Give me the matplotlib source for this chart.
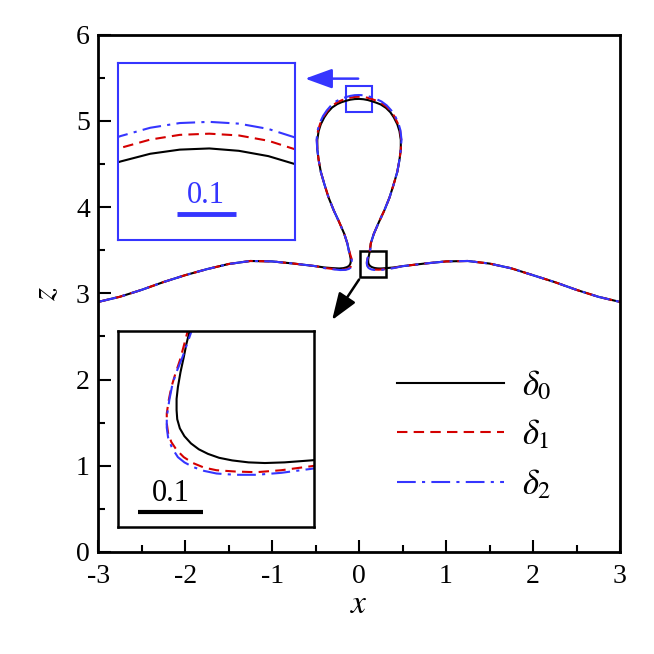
import matplotlib
matplotlib.use("Agg")
import matplotlib.pyplot as plt
from matplotlib.patches import Rectangle

plt.rcParams["font.family"] = "serif"
plt.rcParams["font.serif"] = ["Liberation Serif", "DejaVu Serif"]
plt.rcParams["mathtext.fontset"] = "stix"
plt.rcParams["axes.unicode_minus"] = False

BLUE = "#3535ff"
RED = "#d40000"

# free surface away from the bubble (same for all three cases)
left_x = [-3.0, -2.75, -2.5, -2.25, -2.0, -1.75, -1.5, -1.25, -1.0, -0.75, -0.5]
left_z = [2.90, 2.96, 3.04, 3.13, 3.21, 3.28, 3.34, 3.375, 3.37, 3.345, 3.315]
right_x = [0.5, 0.75, 1.0, 1.25, 1.5, 1.75, 2.0, 2.25, 2.5, 2.75, 3.0]
right_z = [3.315, 3.345, 3.37, 3.375, 3.345, 3.29, 3.21, 3.13, 3.04, 2.96, 2.90]

# shared bubble flanks (from the neck up to z = 4.67)
flank_x = [-0.135, -0.17, -0.23, -0.29, -0.35, -0.40, -0.44, -0.465, -0.48]
flank_z = [3.58, 3.69, 3.83, 3.96, 4.11, 4.27, 4.41, 4.55, 4.67]

# delta_0
neckL0_x = [-0.40, -0.30, -0.227, -0.18, -0.141, -0.115, -0.10, -0.095, -0.097, -0.106, -0.115]
neckL0_z = [3.30, 3.292, 3.288, 3.292, 3.303, 3.318, 3.343, 3.369, 3.404, 3.45, 3.49]
top0_x = [-0.48, -0.465, -0.44, -0.40, -0.36, -0.31, -0.25, -0.20, -0.15, -0.10, -0.05, 0.0,
          0.05, 0.10, 0.15, 0.20, 0.25, 0.31, 0.36, 0.40, 0.44, 0.465, 0.48]
top0_z = [4.78, 4.88, 4.96, 5.04, 5.10, 5.155, 5.195, 5.217, 5.233, 5.246, 5.253, 5.255,
          5.251, 5.242, 5.227, 5.21, 5.19, 5.15, 5.10, 5.04, 4.96, 4.88, 4.78]
neckR0_x = [0.125, 0.12, 0.116, 0.111, 0.107, 0.105, 0.105, 0.106, 0.11, 0.117, 0.127, 0.139,
            0.153, 0.17, 0.19, 0.215, 0.24, 0.27, 0.31, 0.40]
neckR0_z = [3.49, 3.47, 3.45, 3.427, 3.404, 3.386, 3.369, 3.355, 3.341, 3.329, 3.318, 3.309,
            3.302, 3.296, 3.292, 3.289, 3.288, 3.289, 3.292, 3.30]

# delta_1
neckL1_x = [-0.40, -0.30, -0.217, -0.156, -0.12, -0.095, -0.082, -0.08, -0.087, -0.10, -0.112]
neckL1_z = [3.295, 3.283, 3.274, 3.277, 3.288, 3.308, 3.334, 3.364, 3.404, 3.445, 3.49]
top1_x = [-0.485, -0.472, -0.447, -0.408, -0.366, -0.315, -0.255, -0.20, -0.15, -0.10, -0.05, 0.0,
          0.05, 0.10, 0.15, 0.20, 0.255, 0.315, 0.366, 0.408, 0.447, 0.472, 0.485]
top1_z = [4.78, 4.885, 4.968, 5.05, 5.112, 5.17, 5.213, 5.239, 5.256, 5.27, 5.278, 5.280,
          5.277, 5.268, 5.252, 5.233, 5.208, 5.166, 5.112, 5.05, 4.968, 4.885, 4.78]
neckR1_x = [0.122, 0.116, 0.11, 0.103, 0.097, 0.093, 0.09, 0.09, 0.092, 0.097, 0.105, 0.116,
            0.13, 0.147, 0.166, 0.195, 0.227, 0.265, 0.31, 0.40]
neckR1_z = [3.49, 3.467, 3.445, 3.424, 3.404, 3.384, 3.364, 3.349, 3.334, 3.32, 3.308, 3.297,
            3.288, 3.281, 3.277, 3.275, 3.274, 3.277, 3.283, 3.295]

# delta_2
neckL2_x = [-0.40, -0.30, -0.217, -0.156, -0.12, -0.097, -0.082, -0.08, -0.089, -0.104, -0.118]
neckL2_z = [3.293, 3.279, 3.27, 3.272, 3.282, 3.297, 3.327, 3.358, 3.41, 3.45, 3.49]
top2_x = [-0.488, -0.476, -0.452, -0.413, -0.37, -0.318, -0.258, -0.20, -0.15, -0.10, -0.05, 0.0,
          0.05, 0.10, 0.15, 0.20, 0.258, 0.318, 0.37, 0.413, 0.452, 0.476, 0.488]
top2_z = [4.78, 4.89, 4.975, 5.058, 5.122, 5.183, 5.23, 5.258, 5.276, 5.29, 5.298, 5.300,
          5.297, 5.288, 5.272, 5.252, 5.225, 5.18, 5.122, 5.058, 4.975, 4.89, 4.78]
neckR2_x = [0.128, 0.121, 0.114, 0.106, 0.099, 0.094, 0.09, 0.09, 0.092, 0.098, 0.107, 0.117,
            0.13, 0.147, 0.166, 0.195, 0.227, 0.265, 0.31, 0.40]
neckR2_z = [3.49, 3.47, 3.45, 3.43, 3.41, 3.385, 3.358, 3.342, 3.327, 3.311, 3.297, 3.289,
            3.282, 3.276, 3.272, 3.27, 3.27, 3.273, 3.279, 3.293]


def profile(neckL_x, neckL_z, top_x, top_z, neckR_x, neckR_z):
    xs = left_x + neckL_x + flank_x + top_x + [-v for v in flank_x[::-1]] + neckR_x + right_x
    zs = left_z + neckL_z + flank_z + top_z + flank_z[::-1] + neckR_z + right_z
    return xs, zs


curves = [
    (profile(neckL0_x, neckL0_z, top0_x, top0_z, neckR0_x, neckR0_z), "k", "-", r"$\delta_0$"),
    (profile(neckL1_x, neckL1_z, top1_x, top1_z, neckR1_x, neckR1_z), RED, (0, (5, 3)), r"$\delta_1$"),
    (profile(neckL2_x, neckL2_z, top2_x, top2_z, neckR2_x, neckR2_z), BLUE, (0, (9, 3, 1.5, 3)), r"$\delta_2$"),
]

fig = plt.figure(figsize=(6.54, 6.54), dpi=100)
ax = fig.add_axes([0.150, 0.156, 0.798, 0.791])

for (xs, zs), c, ls, lab in curves:
    ax.plot(xs, zs, color=c, ls=ls, lw=1.5, label=lab)

ax.set_xlim(-3, 3)
ax.set_ylim(0, 6)
ax.set_xticks([-3, -2, -1, 0, 1, 2, 3])
ax.set_yticks([0, 1, 2, 3, 4, 5, 6])
ax.set_xticks([-2.5, -1.5, -0.5, 0.5, 1.5, 2.5], minor=True)
ax.set_yticks([0.5, 1.5, 2.5, 3.5, 4.5, 5.5], minor=True)
ax.tick_params(which="both", direction="in", labelsize=20, width=1.5)
ax.tick_params(which="major", length=9, pad=6)
ax.tick_params(axis="x", which="major", pad=9)
ax.tick_params(which="minor", length=5)
for s in ax.spines.values():
    s.set_linewidth(2)
ax.set_xlabel("$x$", fontsize=24, labelpad=0)
ax.set_ylabel("$z$", fontsize=24, labelpad=10)

ax.legend(loc="center", bbox_to_anchor=(0.72, 0.225), frameon=False, fontsize=25,
          handlelength=3.1, labelspacing=0.45, handletextpad=0.5)

# zoom boxes and arrows in the main view
top_lim = ((-0.155, 0.145), (5.10, 5.40))
neck_lim = ((0.015, 0.315), (3.19, 3.49))
ax.add_patch(Rectangle((top_lim[0][0], top_lim[1][0]), 0.3, 0.3, fill=False, ec=BLUE, lw=1.5))
ax.add_patch(Rectangle((neck_lim[0][0], neck_lim[1][0]), 0.3, 0.3, fill=False, ec="k", lw=1.8))
ax.annotate("", xy=(-0.62, 5.49), xytext=(-0.01, 5.49),
            arrowprops=dict(arrowstyle="-|>,head_length=1.1,head_width=0.4", color=BLUE,
                            lw=1.8, mutation_scale=15, shrinkA=0, shrinkB=0))
ax.annotate("", xy=(-0.31, 2.69), xytext=(0.0, 3.16),
            arrowprops=dict(arrowstyle="-|>,head_length=1.1,head_width=0.4", color="k",
                            lw=1.8, mutation_scale=15, shrinkA=0, shrinkB=0))

# inset around the bubble top
axt = fig.add_axes([0.180, 0.633, 0.271, 0.271])
axt.set_zorder(5)
# inset around the neck
axn = fig.add_axes([0.180, 0.194, 0.300, 0.300])
axn.set_zorder(5)

for a, lim, ec, lw in [(axt, top_lim, BLUE, 1.5), (axn, neck_lim, "k", 1.8)]:
    for (xs, zs), c, ls, lab in curves:
        a.plot(xs, zs, color=c, ls=ls, lw=1.5)
    a.set_xlim(*lim[0])
    a.set_ylim(*lim[1])
    a.set_xticks([])
    a.set_yticks([])
    for s in a.spines.values():
        s.set_color(ec)
        s.set_linewidth(lw)

axt.plot([-0.055, 0.045], [5.144, 5.144], color=BLUE, lw=3.5, solid_capstyle="butt")
axt.text(-0.005, 5.150, "0.1", color=BLUE, fontsize=22, ha="center", va="bottom")
axn.plot([0.046, 0.146], [3.213, 3.213], color="k", lw=3, solid_capstyle="butt")
axn.text(0.096, 3.219, "0.1", color="k", fontsize=22, ha="center", va="bottom")

fig.savefig("out.png", dpi=100)
